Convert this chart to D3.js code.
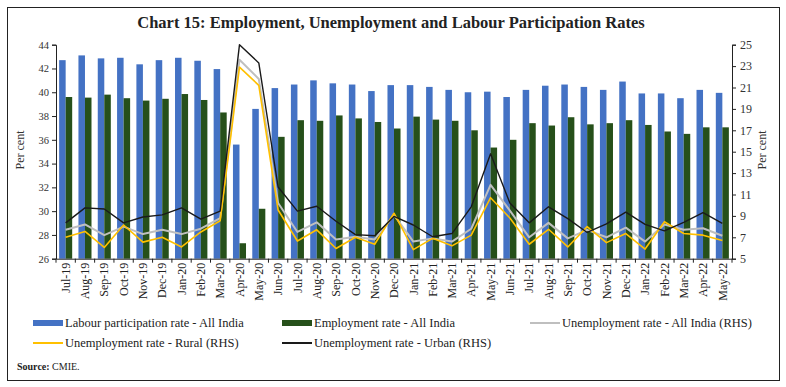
<!DOCTYPE html>
<html>
<head>
<meta charset="utf-8">
<script src="https://cdn.jsdelivr.net/npm/d3@7"></script>
<style>
  body { margin: 0; background: #fff; }
  text { font-family: "Liberation Serif", "DejaVu Serif", serif; }
</style>
</head>
<body>
<svg id="chart" width="786" height="387"></svg>
<script>
const months = ["Jul-19","Aug-19","Sep-19","Oct-19","Nov-19","Dec-19","Jan-20","Feb-20","Mar-20","Apr-20","May-20","Jun-20",
  "Jul-20","Aug-20","Sep-20","Oct-20","Nov-20","Dec-20","Jan-21","Feb-21","Mar-21","Apr-21","May-21","Jun-21",
  "Jul-21","Aug-21","Sep-21","Oct-21","Nov-21","Dec-21","Jan-22","Feb-22","Mar-22","Apr-22","May-22"];

// left axis (bars)
const lprAll = [42.7,43.1,42.85,42.9,42.35,42.7,42.9,42.65,41.95,35.6,38.6,40.35,
  40.65,41.0,40.75,40.65,40.1,40.6,40.6,40.45,40.2,40.0,40.05,39.6,
  40.2,40.55,40.65,40.45,40.2,40.9,39.9,39.9,39.5,40.2,39.95];
const erAll = [39.6,39.55,39.8,39.5,39.3,39.45,39.85,39.35,38.3,27.3,30.2,36.25,
  37.65,37.6,38.05,37.8,37.5,36.95,37.95,37.7,37.6,36.8,35.35,36.0,
  37.4,37.2,37.9,37.3,37.4,37.65,37.25,36.7,36.5,37.05,37.05];

// right axis (lines)
const urAll = [7.7,8.2,7.2,8.0,7.3,7.7,7.3,7.8,8.8,23.6,21.8,10.2,
  7.5,8.4,6.8,7.05,6.8,9.1,6.6,6.9,6.6,7.8,11.9,9.5,
  7.0,8.35,6.9,7.7,7.0,7.9,6.6,8.2,7.7,7.85,7.15];
const urRural = [7.0,7.55,6.05,8.15,6.55,7.0,6.1,7.5,8.55,22.9,21.2,9.55,
  6.65,7.7,5.95,7.0,6.35,9.25,5.85,6.9,6.2,7.2,10.7,8.8,
  6.35,7.75,6.1,8.0,6.5,7.35,5.9,8.45,7.35,7.2,6.7];
const urUrban = [8.35,9.75,9.65,8.35,8.9,9.1,9.75,8.7,9.45,25.0,23.3,11.7,
  9.45,9.9,8.5,7.25,7.15,8.95,8.15,7.05,7.35,9.85,14.8,10.2,
  8.35,9.85,8.75,7.45,8.25,9.35,8.2,7.6,8.4,9.3,8.3];

const leftTicks = d3.range(26, 45, 2);
const rightTicks = d3.range(5, 26, 2);

const svg = d3.select("#chart");
const plot = { left: 56, right: 732, top: 44.7, bottom: 258.7 };

svg.append("rect")
  .attr("x", 7.5).attr("y", 7.5).attr("width", 772).attr("height", 373)
  .attr("fill", "none").attr("stroke", "#222").attr("stroke-width", 1);

svg.append("text")
  .attr("x", 391).attr("y", 28)
  .attr("text-anchor", "middle")
  .attr("font-size", 16.5).attr("font-weight", "bold").attr("fill", "#222")
  .text("Chart 15: Employment, Unemployment and Labour Participation Rates");

const x = d3.scaleBand().domain(months).range([plot.left, plot.right]).padding(0);
const xSub = d3.scaleBand().domain(["lpr", "er"]).range([0, x.bandwidth()]).paddingOuter(0.48).paddingInner(0);
const yL = d3.scaleLinear().domain([26, 44]).range([plot.bottom, plot.top]);
const yR = d3.scaleLinear().domain([5, 25]).range([plot.bottom, plot.top]);

// bars
const barSeries = [
  { key: "lpr", values: lprAll, color: "#4472C4" },
  { key: "er", values: erAll, color: "#26501A" }
];
barSeries.forEach(s => {
  svg.append("g").selectAll("rect")
    .data(months)
    .join("rect")
    .attr("x", (m) => x(m) + xSub(s.key))
    .attr("width", xSub.bandwidth())
    .attr("y", (m, i) => yL(s.values[i]))
    .attr("height", (m, i) => yL(26) - yL(s.values[i]))
    .attr("fill", s.color);
});

// lines
const lineSeries = [
  { values: urAll, color: "#BFBFBF", width: 2 },
  { values: urRural, color: "#FFC000", width: 1.6 },
  { values: urUrban, color: "#1a1a1a", width: 1.4 }
];
const line = d3.line()
  .x((d, i) => x(months[i]) + x.bandwidth() / 2)
  .y(d => yR(d));
lineSeries.forEach(s => {
  svg.append("path")
    .datum(s.values)
    .attr("d", line)
    .attr("fill", "none")
    .attr("stroke", s.color)
    .attr("stroke-width", s.width)
    .attr("stroke-linejoin", "round");
});

// axes
const axL = svg.append("g")
  .attr("transform", `translate(${plot.left},0)`)
  .call(d3.axisLeft(yL).tickValues(leftTicks).tickSize(4).tickPadding(3));
axL.selectAll("text").attr("font-family", "'Open Sans', 'DejaVu Sans', sans-serif").attr("font-size", 10.5).attr("fill", "#333");

const axR = svg.append("g")
  .attr("transform", `translate(${plot.right},0)`)
  .call(d3.axisRight(yR).tickValues(rightTicks).tickSize(4).tickPadding(4));
axR.selectAll("text").attr("font-size", 12).attr("fill", "#333");

const axB = svg.append("g")
  .attr("transform", `translate(0,${plot.bottom})`)
  .call(d3.axisBottom(x).tickSize(0).tickPadding(0));
axB.select(".domain").attr("stroke", "#222");
axB.selectAll("text")
  .attr("transform", "rotate(-90)")
  .attr("text-anchor", "end")
  .attr("x", -4).attr("y", 0).attr("dy", "0.35em")
  .attr("font-size", 12).attr("fill", "#222");
// tick marks between categories
svg.append("g").selectAll("line")
  .data(months.concat(["end"]))
  .join("line")
  .attr("x1", (m, i) => plot.left + i * x.step())
  .attr("x2", (m, i) => plot.left + i * x.step())
  .attr("y1", plot.bottom).attr("y2", plot.bottom + 4)
  .attr("stroke", "#222");

[axL, axR].forEach(a => {
  a.select(".domain").attr("stroke", "#222");
  a.selectAll(".tick line").attr("stroke", "#222");
});

svg.append("text")
  .attr("transform", "translate(24,150) rotate(-90)")
  .attr("text-anchor", "middle").attr("font-size", 12).attr("fill", "#333")
  .text("Per cent");
svg.append("text")
  .attr("transform", "translate(766,150) rotate(-90)")
  .attr("text-anchor", "middle").attr("font-size", 12).attr("fill", "#333")
  .text("Per cent");

// legend
const legendItems = [
  { label: "Labour participation rate - All India", color: "#4472C4", type: "bar", x: 33, y: 323 },
  { label: "Employment rate - All India", color: "#26501A", type: "bar", x: 282, y: 323 },
  { label: "Unemployment rate - All India (RHS)", color: "#BFBFBF", type: "line", x: 530, y: 323 },
  { label: "Unemployment rate - Rural (RHS)", color: "#FFC000", type: "line", x: 33, y: 343 },
  { label: "Unemployment rate - Urban (RHS)", color: "#1a1a1a", type: "line", x: 282, y: 343 }
];
const lg = svg.append("g").selectAll("g").data(legendItems).join("g")
  .attr("transform", d => `translate(${d.x},${d.y})`);
lg.append("rect")
  .attr("x", 0).attr("width", 30)
  .attr("y", d => d.type === "bar" ? -3 : -1)
  .attr("height", d => d.type === "bar" ? 6 : 2)
  .attr("fill", d => d.color);
lg.append("text")
  .attr("x", 32).attr("dy", "0.35em")
  .attr("font-size", 12.5).attr("fill", "#222")
  .text(d => d.label);

const src = svg.append("text").attr("x", 17).attr("y", 370).attr("font-size", 10).attr("fill", "#222");
src.append("tspan").attr("font-weight", "bold").text("Source: ");
src.append("tspan").text("CMIE.");
</script>
</body>
</html>
